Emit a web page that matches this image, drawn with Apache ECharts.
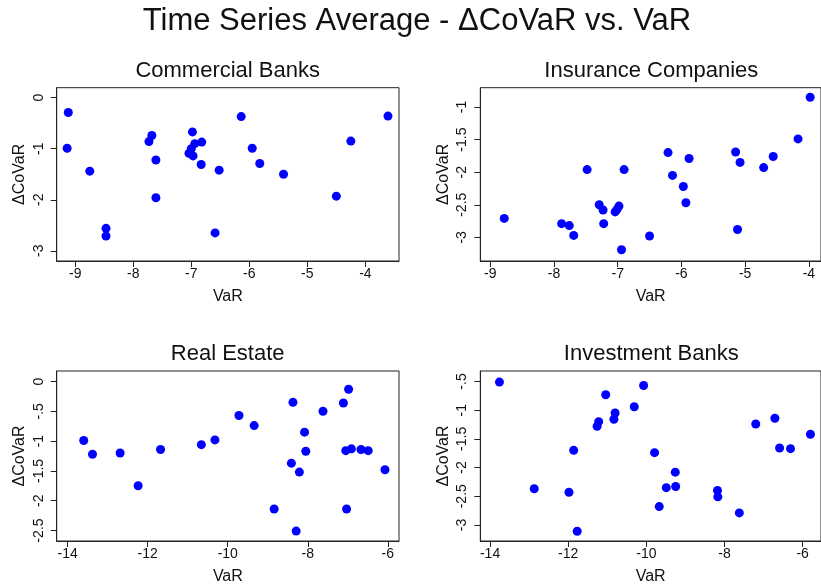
<!DOCTYPE html>
<html><head><meta charset="utf-8">
<script src="https://cdn.jsdelivr.net/npm/echarts@6/dist/echarts.min.js"></script>
<style>html,body{margin:0;padding:0;background:#fff}#c{width:821px;height:586px}</style>
</head><body><div id="c"></div>
<script>
const mainTitle = 'Time Series Average - \u0394CoVaR vs. VaR';
const panelTitles = ['Commercial Banks', 'Insurance Companies', 'Real Estate', 'Investment Banks'];
const xName = 'VaR';
const yName = '\u0394CoVaR';

const cbVaR    = [-9.12, -9.14, -8.75, -8.47, -8.47, -7.73, -7.68, -7.61, -7.61, -6.98, -7.04, -7.00, -6.94, -6.97, -6.82, -6.83, -6.52, -6.59, -6.14, -5.95, -5.82, -5.41, -4.50, -4.25, -3.61];
const cbDCoVaR = [-0.29, -0.99, -1.44, -2.56, -2.71, -0.86, -0.74, -1.22, -1.96, -0.67, -1.09, -1.00, -0.90, -1.14, -0.87, -1.31, -1.42, -2.65, -0.37, -0.99, -1.29, -1.50, -1.93, -0.85, -0.36];

const icVaR    = [-8.78, -7.88, -7.76, -7.69, -7.48, -7.29, -7.23, -7.22, -7.04, -6.98, -7.01, -6.90, -6.94, -6.50, -6.21, -6.14, -5.97, -5.93, -5.88, -5.15, -5.08, -5.12, -4.71, -4.56, -4.17, -3.98];
const icDCoVaR = [-2.71, -2.79, -2.82, -2.97, -1.96, -2.50, -2.58, -2.79, -2.61, -2.52, -2.57, -1.96, -3.19, -2.98, -1.70, -2.05, -2.22, -2.47, -1.79, -1.69, -1.85, -2.88, -1.93, -1.76, -1.49, -0.85];

const reVaR    = [-13.60, -13.38, -12.69, -12.24, -11.68, -10.66, -10.32, -9.72, -9.34, -8.84, -8.37, -8.41, -8.29, -8.21, -8.08, -8.05, -7.62, -7.11, -6.98, -7.05, -7.03, -6.91, -6.67, -6.49, -6.07];
const reDCoVaR = [-0.99, -1.22, -1.20, -1.75, -1.14, -1.06, -0.98, -0.57, -0.74, -2.14, -0.35, -1.37, -2.51, -1.52, -0.85, -1.17, -0.50, -0.36, -0.13, -1.16, -2.14, -1.13, -1.14, -1.16, -1.48];

const ibVaR    = [-13.76, -12.87, -11.98, -11.86, -11.77, -11.26, -11.22, -11.04, -10.83, -10.80, -10.31, -10.07, -9.79, -9.67, -9.49, -9.26, -9.25, -8.18, -8.17, -7.62, -7.20, -6.71, -6.59, -6.31, -5.80];
const ibDCoVaR = [-0.51, -2.37, -2.43, -1.70, -3.11, -1.28, -1.20, -0.73, -1.16, -1.05, -0.94, -0.57, -1.74, -2.68, -2.35, -2.08, -2.33, -2.40, -2.51, -2.79, -1.24, -1.14, -1.66, -1.67, -1.42];

const xTicksTop    = [-9, -8, -7, -6, -5, -4];
const xTicksBottom = [-14, -12, -10, -8, -6];
const yTicksCB = [0, -1, -2, -3];
const yTicksIC = [-1, -1.5, -2, -2.5, -3];
const yTicksRE = [0, -0.5, -1, -1.5, -2, -2.5];
const yTicksIB = [-0.5, -1, -1.5, -2, -2.5, -3];

const panelXs = [cbVaR, icVaR, reVaR, ibVaR];
const panelYs = [cbDCoVaR, icDCoVaR, reDCoVaR, ibDCoVaR];
const panelXTicks = [xTicksTop, xTicksTop, xTicksBottom, xTicksBottom];
const panelYTicks = [yTicksCB, yTicksIC, yTicksRE, yTicksIB];

// layout (pixels)
const grids = [
  {left: 56.7, top: 87.7, width: 342.3, height: 173.3},
  {left: 480.3, top: 87.7, width: 342, height: 173.3},
  {left: 56.7, top: 371, width: 342.3, height: 173},
  {left: 480.3, top: 371, width: 342, height: 173}
];
const xRanges = [[-9.32, -3.42], [-9.156, -3.81], [-14.275, -5.72], [-14.25, -5.53]];
const yRanges = [[-3.2, 0.196], [-3.363, -0.704], [-2.676, 0.176], [-3.28, -0.317]];

const FONT = '"Liberation Sans", Arial, Helvetica, sans-serif';
const INK = '#111';
const LINE = '#222';
function fmt(v) {
  let s = String(Math.round(v * 100) / 100);
  return s.replace(/^(-?)0\./, '$1.');
}

const option = {
  animation: false,
  backgroundColor: '#fff',
  textStyle: {fontFamily: FONT},
  title: [{
    text: mainTitle, left: 417, top: 21, textAlign: 'center', textVerticalAlign: 'middle', padding: 0,
    textStyle: {fontSize: 31, fontWeight: 'normal', color: INK, fontFamily: FONT}
  }].concat(panelTitles.map((t, i) => ({
    text: t, left: grids[i].left + 342 / 2, top: grids[i].top - 17, textAlign: 'center', textVerticalAlign: 'middle', padding: 0,
    textStyle: {fontSize: 22, fontWeight: 'normal', color: INK, fontFamily: FONT}
  }))),
  grid: grids.map(g => Object.assign({show: true, borderColor: LINE, borderWidth: 1, backgroundColor: 'transparent', containLabel: false}, g)),
  xAxis: grids.map((g, i) => ({
    type: 'value', gridIndex: i, min: xRanges[i][0], max: xRanges[i][1],
    name: xName, nameLocation: 'middle', nameGap: 28,
    nameTextStyle: {fontSize: 16, color: INK, fontFamily: FONT},
    axisLine: {show: true, onZero: false, lineStyle: {color: LINE, width: 1}},
    axisTick: {show: true, length: 6, customValues: panelXTicks[i], lineStyle: {color: LINE}},
    axisLabel: {customValues: panelXTicks[i], formatter: fmt, fontSize: 14, color: INK, margin: 6, fontFamily: FONT},
    splitLine: {show: false}
  })),
  yAxis: grids.map((g, i) => ({
    type: 'value', gridIndex: i, min: yRanges[i][0], max: yRanges[i][1],
    name: yName, nameLocation: 'middle', nameGap: 29, nameRotate: 90,
    nameTextStyle: {fontSize: 16, color: INK, fontFamily: FONT},
    axisLine: {show: true, onZero: false, lineStyle: {color: LINE, width: 1}},
    axisTick: {show: true, length: 6, customValues: panelYTicks[i], lineStyle: {color: LINE}},
    axisLabel: {customValues: panelYTicks[i], formatter: fmt, rotate: 90, fontSize: 14, color: INK, margin: 11, fontFamily: FONT},
    splitLine: {show: false}
  })),
  series: panelXs.map((xs, i) => ({
    type: 'scatter', xAxisIndex: i, yAxisIndex: i,
    data: xs.map((x, k) => [x, panelYs[i][k]]),
    symbol: 'circle', symbolSize: 9,
    itemStyle: {color: '#0000ff', opacity: 1}
  }))
};
echarts.init(document.getElementById('c'), null, {renderer: 'canvas'}).setOption(option);
</script></body></html>
